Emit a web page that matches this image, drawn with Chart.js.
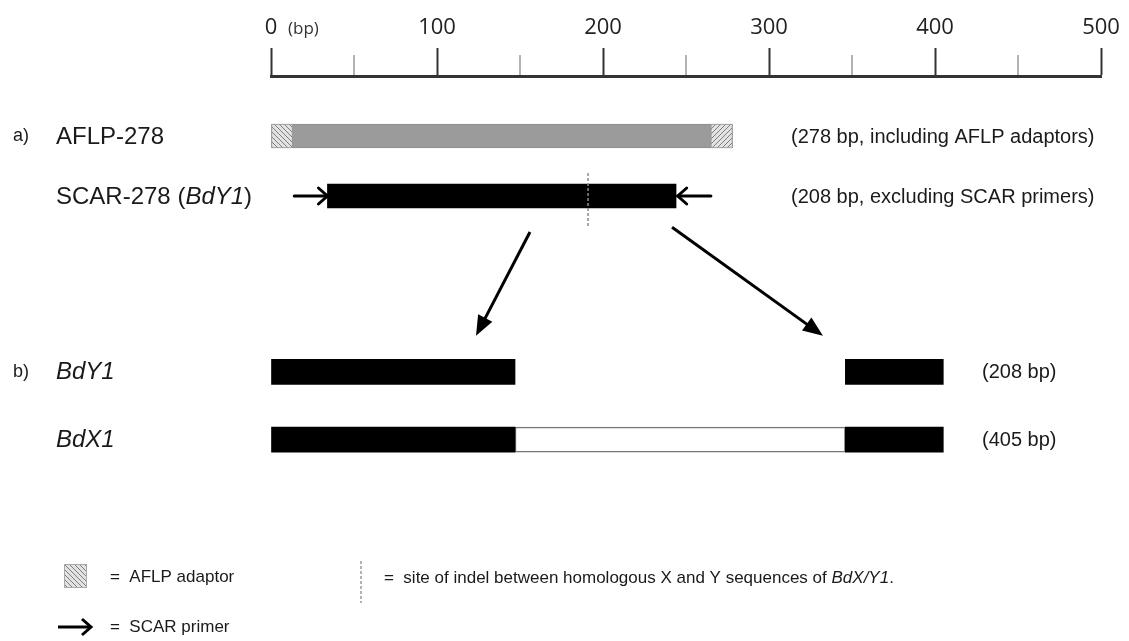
<!DOCTYPE html>
<html>
<head>
<meta charset="utf-8">
<script src="https://cdn.jsdelivr.net/npm/chart.js@4.4.1/dist/chart.umd.min.js"></script>
<style>
  html, body { margin: 0; padding: 0; background: #fff; }
  #wrap { width: 1129px; height: 641px; }
</style>
</head>
<body>
<div id="wrap"><canvas id="diagram" width="1129" height="641"></canvas></div>
<script>
// sequences, in bp
const laneNames = ['AFLP-278', 'SCAR-278', 'BdY1', 'BdX1'];
const laneNotes = ['(278 bp, including AFLP adaptors)', '(208 bp, excluding SCAR primers)', '(208 bp)', '(405 bp)'];
const aflpSpan = [0, 278];
const adaptorSpans = [[0, 13], [265, 278]];
const scarSpan = [34, 244];
const primerSpans = [[14, 34], [245, 265]];   // [tail, head] of each primer arrow
const bdY1Spans = [[0, 147], [346, 405]];
const bdX1Spans = [[0, 147], [346, 405]];
const bdX1Insert = [147, 346];
const indelSite = 191;
const xTicks = [0, 50, 100, 150, 200, 250, 300, 350, 400, 450, 500];

// lane positions along the (hidden) vertical axis
const LANE = [1, 2, 4.93, 6.06];

const canvas = document.getElementById('diagram');

function hatch(dir) {
    const p = document.createElement('canvas');
    p.width = 5; p.height = 5;
    const g = p.getContext('2d');
    g.fillStyle = '#e2e2e2';
    g.fillRect(0, 0, 5, 5);
    g.strokeStyle = '#808080';
    g.lineWidth = 1;
    g.beginPath();
    if (dir > 0) {
        g.moveTo(-1, 6); g.lineTo(6, -1);
        g.moveTo(-1, 1); g.lineTo(1, -1);
        g.moveTo(4, 6); g.lineTo(6, 4);
    } else {
        g.moveTo(-1, -1); g.lineTo(6, 6);
        g.moveTo(4, -1); g.lineTo(6, 1);
        g.moveTo(-1, 4); g.lineTo(1, 6);
    }
    g.stroke();
    return canvas.getContext('2d').createPattern(p, 'repeat');
}
const hatchBack = hatch(-1);
const hatchFwd = hatch(1);

function on(spans, lane) {
    return spans.map(s => ({ x: s, y: LANE[lane] }));
}

function arrowHead(ctx, x1, y1, x2, y2, len, half, filled) {
    const a = Math.atan2(y2 - y1, x2 - x1);
    const bx = x2 - len * Math.cos(a), by = y2 - len * Math.sin(a);
    const px = -Math.sin(a) * half, py = Math.cos(a) * half;
    ctx.beginPath();
    if (filled) {
        ctx.moveTo(x2, y2);
        ctx.lineTo(bx + px, by + py);
        ctx.lineTo(bx - px, by - py);
        ctx.closePath();
        ctx.fill();
    } else {
        ctx.moveTo(bx + px, by + py);
        ctx.lineTo(x2, y2);
        ctx.lineTo(bx - px, by - py);
        ctx.stroke();
    }
}

const FONT = '"Liberation Sans", Arial, sans-serif';

const annotations = {
    id: 'annotations',
    afterDraw(chart) {
        const ctx = chart.ctx;
        const xs = chart.scales.x, ys = chart.scales.y;
        const X = v => xs.getPixelForValue(v);
        const Y = v => ys.getPixelForValue(v);
        ctx.save();

        // minor ticks of the bp ruler
        ctx.strokeStyle = '#9a9a9a';
        ctx.lineWidth = 1.5;
        xTicks.filter(v => v % 100 !== 0).forEach(v => {
            ctx.beginPath();
            ctx.moveTo(X(v), xs.bottom - 21);
            ctx.lineTo(X(v), xs.bottom - 1);
            ctx.stroke();
        });
        ctx.fillStyle = '#333';
        ctx.font = '17px "Open Sans", sans-serif';
        ctx.textBaseline = 'middle';
        ctx.fillText('(bp)', X(0) + 17, 29);

        // lane labels
        ctx.fillStyle = '#1a1a1a';
        ctx.font = '18px ' + FONT;
        ctx.fillText('a)', 13, Y(LANE[0]));
        ctx.fillText('b)', 13, Y(LANE[2]));
        ctx.font = '24px ' + FONT;
        ctx.fillText(laneNames[0], 56, Y(LANE[0]) + 1);
        let t = laneNames[1] + ' (';
        ctx.fillText(t, 56, Y(LANE[1]) + 1);
        let w = ctx.measureText(t).width;
        ctx.font = 'italic 24px ' + FONT;
        ctx.fillText('BdY1', 56 + w, Y(LANE[1]) + 1);
        w += ctx.measureText('BdY1').width;
        ctx.font = '24px ' + FONT;
        ctx.fillText(')', 56 + w, Y(LANE[1]) + 1);
        ctx.font = 'italic 24px ' + FONT;
        ctx.fillText(laneNames[2], 56, Y(LANE[2]) + 1);
        ctx.fillText(laneNames[3], 56, Y(LANE[3]) + 1);

        // size notes
        ctx.font = '20px ' + FONT;
        ctx.fillText(laneNotes[0], 791, Y(LANE[0]) + 1);
        ctx.fillText(laneNotes[1], 791, Y(LANE[1]) + 1);
        ctx.fillText(laneNotes[2], 982, Y(LANE[2]) + 1);
        ctx.fillText(laneNotes[3], 982, Y(LANE[3]) + 1);

        // SCAR primers
        ctx.strokeStyle = '#000';
        ctx.fillStyle = '#000';
        ctx.lineWidth = 3;
        ctx.lineCap = 'round';
        primerSpans.forEach(([a, b], i) => {
            const tail = i === 0 ? a : b, head = i === 0 ? b : a;
            const y = Y(LANE[1]);
            ctx.beginPath();
            ctx.moveTo(X(tail), y);
            ctx.lineTo(X(head), y);
            ctx.stroke();
            arrowHead(ctx, X(tail), y, X(head), y, 9, 8, false);
        });

        // indel site
        ctx.strokeStyle = '#8c8c8c';
        ctx.lineWidth = 1.5;
        ctx.lineCap = 'butt';
        ctx.setLineDash([3, 2]);
        ctx.beginPath();
        ctx.moveTo(X(indelSite), Y(LANE[1]) - 23);
        ctx.lineTo(X(indelSite), Y(LANE[1]) + 31);
        ctx.stroke();
        ctx.setLineDash([]);

        // arrows down to the BdY1 / BdX1 comparison
        ctx.strokeStyle = '#000';
        ctx.lineWidth = 3;
        [[156, 2.6, 123.5, 4.33], [241.6, 2.52, 332.5, 4.33]].forEach(([a, ya, b, yb]) => {
            const x1 = X(a), y1 = Y(ya), x2 = X(b), y2 = Y(yb);
            const ang = Math.atan2(y2 - y1, x2 - x1);
            ctx.beginPath();
            ctx.moveTo(x1, y1);
            ctx.lineTo(x2 - 14 * Math.cos(ang), y2 - 14 * Math.sin(ang));
            ctx.stroke();
            arrowHead(ctx, x1, y1, x2, y2, 20, 8, true);
        });

        // key
        ctx.fillStyle = hatchBack;
        ctx.fillRect(64, 564, 23, 24);
        ctx.strokeStyle = '#aaa';
        ctx.lineWidth = 1;
        ctx.strokeRect(64.5, 564.5, 22, 23);
        ctx.strokeStyle = '#000';
        ctx.lineWidth = 3;
        ctx.beginPath();
        ctx.moveTo(58, 627);
        ctx.lineTo(91, 627);
        ctx.stroke();
        arrowHead(ctx, 58, 627, 91, 627, 9, 8, false);
        ctx.strokeStyle = '#999';
        ctx.lineWidth = 1.5;
        ctx.setLineDash([3, 2]);
        ctx.beginPath();
        ctx.moveTo(361, 561);
        ctx.lineTo(361, 603);
        ctx.stroke();
        ctx.setLineDash([]);

        ctx.fillStyle = '#1a1a1a';
        ctx.font = '17px ' + FONT;
        ctx.fillText('=  AFLP adaptor', 110, 577);
        ctx.fillText('=  SCAR primer', 110, 627);
        t = '=  site of indel between homologous X and Y sequences of ';
        ctx.fillText(t, 384, 578);
        w = ctx.measureText(t).width;
        ctx.font = 'italic 17px ' + FONT;
        ctx.fillText('BdX/Y1', 384 + w, 578);
        w += ctx.measureText('BdX/Y1').width;
        ctx.font = '17px ' + FONT;
        ctx.fillText('.', 384 + w, 578);
        ctx.restore();
    }
};

const barOpts = { grouped: false, barThickness: 24, borderSkipped: false };

// earlier datasets are painted on top of later ones
new Chart(canvas, {
    type: 'bar',
    data: {
        datasets: [
            { ...barOpts, data: on([adaptorSpans[0]], 0), backgroundColor: hatchBack, borderColor: '#999', borderWidth: 1 },
            { ...barOpts, data: on([adaptorSpans[1]], 0), backgroundColor: hatchFwd, borderColor: '#999', borderWidth: 1 },
            { ...barOpts, data: on([aflpSpan], 0), backgroundColor: '#9b9b9b', borderColor: '#8d8d8d', borderWidth: 1 },
            { ...barOpts, data: on([scarSpan], 1), backgroundColor: '#000' },
            { ...barOpts, barThickness: 25, data: on(bdY1Spans, 2), backgroundColor: '#000' },
            { ...barOpts, barThickness: 25, data: on(bdX1Spans, 3), backgroundColor: '#000' },
            { ...barOpts, barThickness: 25, data: on([bdX1Insert], 3), backgroundColor: '#fff', borderColor: '#777', borderWidth: 1.5 }
        ]
    },
    options: {
        indexAxis: 'y',
        responsive: false,
        animation: false,
        layout: { padding: { left: 271, right: 28, top: 0, bottom: 0 } },
        plugins: {
            legend: { display: false },
            tooltip: { enabled: false }
        },
        scales: {
            x: {
                type: 'linear',
                position: 'top',
                min: 0,
                max: 500,
                afterBuildTicks: s => { s.ticks = xTicks.map(v => ({ value: v })); },
                afterFit: s => { s.height = 76; },
                ticks: {
                    autoSkip: false,
                    maxRotation: 0,
                    padding: 7,
                    color: '#222',
                    font: { family: '"Open Sans", sans-serif', size: 22 },
                    callback: v => (v % 100 === 0 ? String(v) : '')
                },
                grid: {
                    drawOnChartArea: false,
                    drawTicks: true,
                    tickLength: 28,
                    tickWidth: 2,
                    tickColor: c => (c.tick && c.tick.value % 100 === 0 ? '#333' : 'rgba(0,0,0,0)')
                },
                border: { display: true, color: '#333', width: 3 }
            },
            y: {
                type: 'linear',
                display: false,
                reverse: true,
                offset: false,
                min: 0,
                max: 565 / 60
            }
        }
    },
    plugins: [annotations]
});
</script>
</body>
</html>
